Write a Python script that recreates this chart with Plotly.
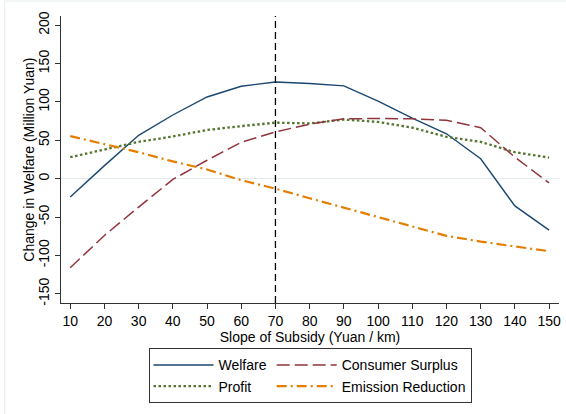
import plotly.graph_objects as go

# Slope of subsidy (Yuan / km)
slope = [10, 20, 30, 40, 50, 60, 70, 80, 90, 100, 110, 120, 130, 140, 150]

# Change in welfare components (Million Yuan)
welfare = [-24, 17, 56.5, 83, 106.5, 120.5, 126, 124, 121, 101, 79, 58.5, 26, -35.5, -67]
consumer_surplus = [-116, -74, -37, -1, 24, 47.5, 61, 71, 78, 78.5, 78, 76, 66.5, 28, -5.5]
profit = [28, 38, 48, 55, 63.5, 68.5, 73, 72, 77, 74, 66.5, 54.5, 48, 34.5, 27.5]
emission_reduction = [55.5, 45, 34.5, 22.5, 12, -2, -13, -25.5, -38, -50, -62, -74.5, -82, -88, -94.5]

y_ticks = [-150, -100, -50, 0, 50, 100, 150, 200]
y_tick_labels = ["-150", "-100", "-50", "0", "50", "100", "150", "200"]

optimal_slope = 70

font_family = "Liberation Sans, Arial, Helvetica, sans-serif"
fs = 14

fig = go.Figure()

fig.add_trace(go.Scatter(
    x=slope, y=welfare, name="Welfare", mode="lines",
    line=dict(color="#1a476f", width=1.4),
    legendgroup="a",
))
fig.add_trace(go.Scatter(
    x=slope, y=profit, name="Profit", mode="lines",
    line=dict(color="#55752f", width=2.3, dash="2.5px,2.5px"),
    legendgroup="a",
))
fig.add_trace(go.Scatter(
    x=slope, y=consumer_surplus, name="Consumer Surplus", mode="lines",
    line=dict(color="#90353b", width=1.5, dash="13px,5px"),
    legendgroup="b",
))
fig.add_trace(go.Scatter(
    x=slope, y=emission_reduction, name="Emission Reduction", mode="lines",
    line=dict(color="#e37e00", width=2.2, dash="10px,4px,2px,4px"),
    legendgroup="b",
))

# Vertical reference line at the welfare-maximising slope
fig.add_shape(
    type="line", xref="x", yref="paper",
    x0=optimal_slope, x1=optimal_slope, y0=0, y1=1,
    line=dict(color="black", width=1.3, dash="7px,4px"),
    layer="above",
)

# Faint outer frame of the graph region
fig.add_shape(
    type="rect", xref="paper", yref="paper",
    x0=-0.113, x1=1.2, y0=-0.5, y1=1.052,
    line=dict(color="#e6eef0", width=1),
    layer="below",
)

# Y-axis title placed as a rotated annotation
fig.add_annotation(
    text="Change in Welfare (Million Yuan)",
    xref="paper", yref="paper", x=-0.066, y=0.5,
    xanchor="center", yanchor="middle",
    textangle=-90, showarrow=False,
    font=dict(family=font_family, size=fs, color="black"),
)

fig.update_layout(
    width=566, height=414,
    margin=dict(l=61, r=5, t=16, b=111),
    paper_bgcolor="white",
    plot_bgcolor="white",
    font=dict(family=font_family, size=fs, color="black"),
    showlegend=True,
    legend=dict(
        orientation="h",
        traceorder="grouped",
        x=0.5, xanchor="center",
        y=-0.158, yanchor="top",
        bordercolor="#333333", borderwidth=1,
        font=dict(family=font_family, size=fs, color="black"),
        tracegroupgap=16,
        itemwidth=60,
    ),
)

fig.update_xaxes(
    range=[7.3, 152.9],
    tickmode="array",
    tickvals=slope,
    ticks="outside", ticklen=5, tickwidth=1, tickcolor="#333333",
    showline=True, linecolor="#333333", linewidth=1,
    showgrid=False, zeroline=False,
    tickfont=dict(size=fs),
    title=dict(text="Slope of Subsidy (Yuan / km)", font=dict(size=fs), standoff=2),
)
fig.update_yaxes(
    range=[-162, 212],
    tickmode="array",
    tickvals=y_ticks,
    ticktext=y_tick_labels,
    ticks="outside", ticklen=5, tickwidth=1, tickcolor="#333333",
    showline=True, linecolor="#333333", linewidth=1,
    showgrid=False,
    zeroline=True, zerolinecolor="#e3ecef", zerolinewidth=1,
    tickangle=-90,
    tickfont=dict(size=fs),
)

fig.write_html("out.html")
